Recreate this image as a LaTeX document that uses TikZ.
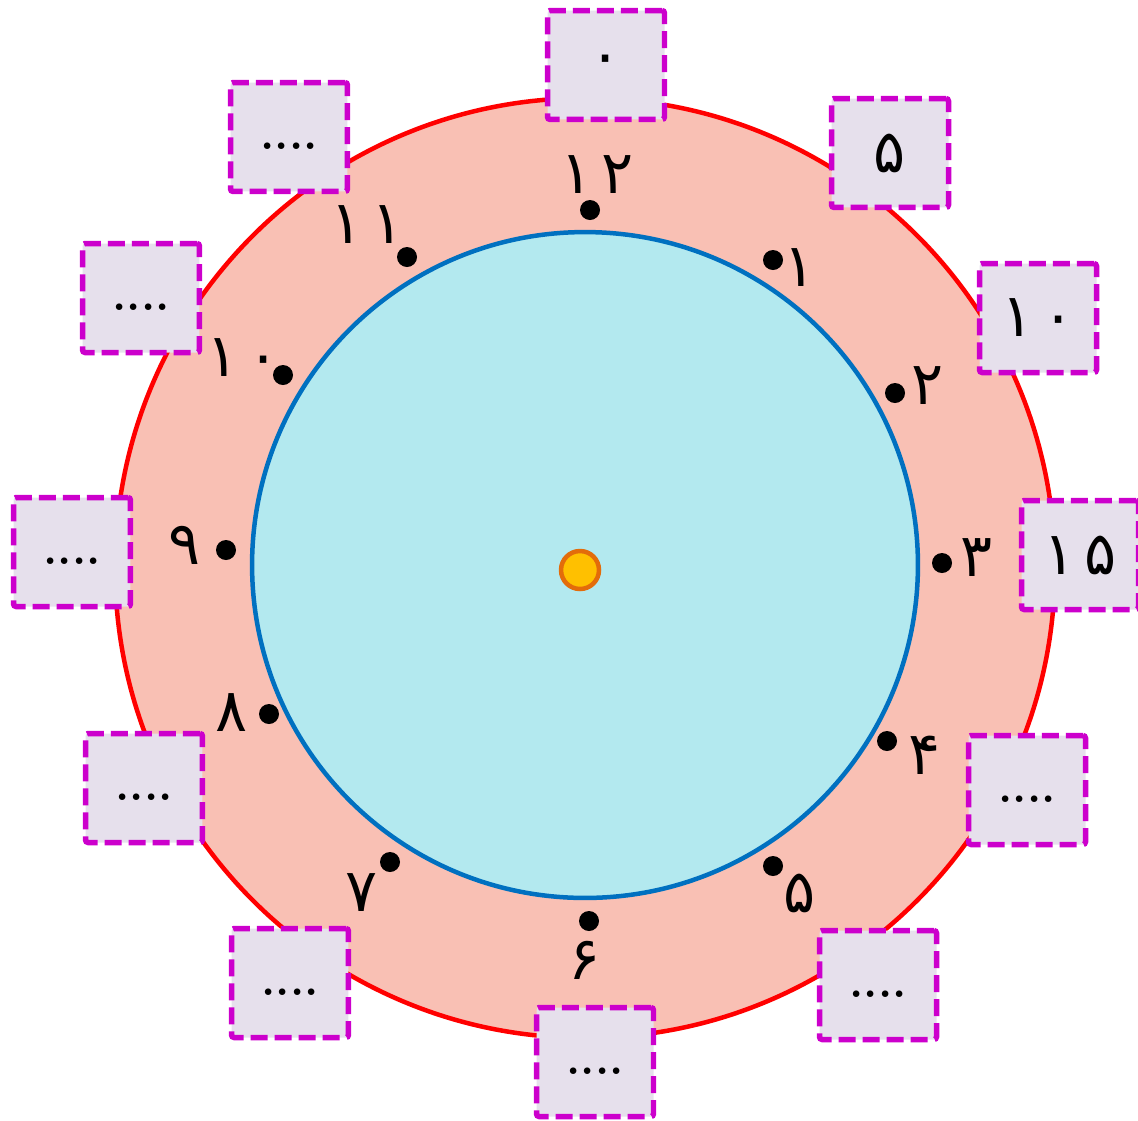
\documentclass[tikz,border=0pt]{standalone}
\usepackage{fontspec}
\usepackage{xcolor}
\usepackage{tikz}
\usetikzlibrary{positioning}
\newfontfamily\farsi[Script=Arabic, LetterSpace=14]{DejaVu Sans}
\definecolor{rimred}{HTML}{FF0000}
\definecolor{rimfill}{HTML}{F9C0B4}
\definecolor{faceblue}{HTML}{0070C0}
\definecolor{facefill}{HTML}{B3E9EF}
\definecolor{hubfill}{HTML}{FFC000}
\definecolor{hubedge}{HTML}{E36C0A}
\definecolor{boxedge}{HTML}{CC00CC}
\definecolor{boxfill}{HTML}{E6E0EC}

\begin{document}
\begin{tikzpicture}[x=0.02cm, y=-0.02cm,
  minbox/.style={draw=boxedge, line width=0.11cm, fill=boxfill, rounded corners=1.5pt,
    dash pattern=on 0.34cm off 0.14cm,
    minimum width=2.34cm, minimum height=2.18cm, inner sep=0pt,
    font=\farsi\fontsize{34}{36}\selectfont},
  blankbox/.style={minbox, text height=0.5cm, text depth=0pt,
    font=\fontsize{26}{28}\selectfont\bfseries},
  hourdot/.style={circle, fill=black, minimum size=0.4cm, inner sep=0pt},
  hour/.style={inner sep=0pt, font=\farsi\fontsize{34}{36}\selectfont}]

  \useasboundingbox (0,0) rectangle (1138,1120);

  % clock face
  \draw[draw=rimred, fill=rimfill, line width=0.09cm] (585,568) circle[radius=9.4cm];
  \draw[draw=faceblue, fill=facefill, line width=0.09cm] (585,565) circle[radius=6.66cm];
  \node[circle, draw=hubedge, fill=hubfill, line width=0.09cm, minimum size=0.76cm, inner sep=0pt] (hub) at (580,570) {};

  % hour marks
  \node[hourdot] (d12) at (590,210) {};
  \node[hourdot] (d1) at (773,260) {};
  \node[hourdot] (d2) at (895,393) {};
  \node[hourdot] (d3) at (942,563) {};
  \node[hourdot] (d4) at (887,741) {};
  \node[hourdot] (d5) at (773,866) {};
  \node[hourdot] (d6) at (589,921) {};
  \node[hourdot] (d7) at (390,862) {};
  \node[hourdot] (d8) at (269,714) {};
  \node[hourdot] (d9) at (226,550) {};
  \node[hourdot] (d10) at (283,375) {};
  \node[hourdot] (d11) at (407,257) {};

  \node[hour] (l12) at (597,175) {۱۲};
  \node[hour] (l1) at (800,268) {۱};
  \node[hour] (l2) at (928,386) {۲};
  \node[hour] (l3) at (977,558) {۳};
  \node[hour] (l4) at (925,755) {۴};
  \node[hour] (l5) at (800,893) {۵};
  \node[hour] (l6) at (585,960) {۶};
  \node[hour] (l7) at (362,893) {۷};
  \node[hour] (l8) at (232,713) {۸};
  \node[hour] (l9) at (185,545) {۹};
  \node[hour] (l10) at (243,358) {۱۰};
  \node[hour] (l11) at (367,225) {۱۱};

  % minute boxes
  \node[minbox] (b0) at (606,65) {۰};
  \node[minbox] (b5) at (890,153) {۵};
  \node[minbox] (b10) at (1038,318) {۱۰};
  \node[minbox] (b15) at (1080,555) {۱۵};
  \node[blankbox] (b20) at (1027,790) {....};
  \node[blankbox] (b25) at (878,985) {....};
  \node[blankbox] (b30) at (595,1062) {....};
  \node[blankbox] (b35) at (290,983) {....};
  \node[blankbox] (b40) at (144,788) {....};
  \node[blankbox] (b45) at (72,552) {....};
  \node[blankbox] (b50) at (141,298) {....};
  \node[blankbox] (b55) at (289,137) {....};
\end{tikzpicture}
\end{document}
